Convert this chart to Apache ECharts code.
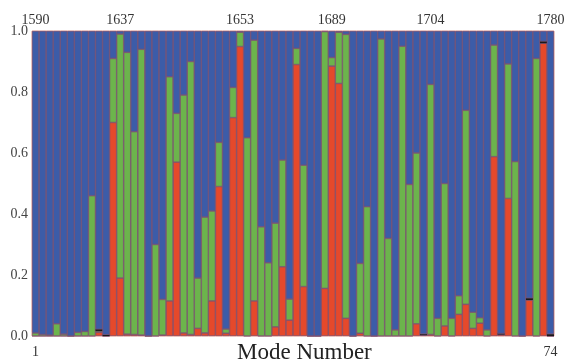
<!DOCTYPE html>
<html><head><meta charset="utf-8">
<script src="https://cdn.jsdelivr.net/npm/echarts@6/dist/echarts.min.js"></script>
<style>html,body{margin:0;padding:0;background:#fff}#c{width:568px;height:364px}</style>
</head><body><div id="c"></div>
<script>
const modes = ['1','2','3','4','5','6','7','8','9','10','11','12','13','14','15','16','17','18','19','20',
'21','22','23','24','25','26','27','28','29','30','31','32','33','34','35','36','37','38','39','40',
'41','42','43','44','45','46','47','48','49','50','51','52','53','54','55','56','57','58','59','60',
'61','62','63','64','65','66','67','68','69','70','71','72','73','74'];

const red = [0,0,0,0,0,0,0,0,0,0.012,
0,0.70,0.19,0.006,0.005,0.003,0,0,0.003,0.115,
0.57,0.01,0.005,0.025,0.01,0.115,0.49,0.009,0.716,0.949,
0,0.115,0,0,0.03,0.227,0.052,0.89,0.162,0,
0,0.156,0.885,0.828,0.058,0,0.009,0,0,0,
0,0,0,0,0.04,0.003,0.005,0,0.033,0,
0.071,0.104,0.025,0.042,0,0.588,0.005,0.451,0,0,
0.118,0,0.96,0];

const green = [0.01,0.005,0.003,0.04,0.006,0,0.012,0.015,0.46,0.004,
0,0.21,0.80,0.924,0.665,0.937,0,0.30,0.117,0.735,
0.16,0.78,0.895,0.165,0.38,0.295,0.145,0.014,0.099,0.047,
0.65,0.855,0.358,0.24,0.34,0.35,0.069,0.053,0.398,0,
0,0.842,0.028,0.168,0.931,0,0.229,0.424,0,0.974,
0.32,0.02,0.95,0.497,0.56,0,0.82,0.058,0.467,0.058,
0.061,0.636,0.053,0.018,0.02,0.366,0,0.441,0.572,0,
0,0.91,0,0];

const dark = [0,0,0,0,0,0,0,0,0,0.006,
0.004,0,0,0,0,0,0,0,0,0,
0,0,0,0,0,0,0,0,0,0,
0,0,0,0,0,0,0,0,0,0,
0,0,0,0,0,0,0,0,0,0,
0,0,0,0,0,0.003,0,0,0,0,
0,0,0,0,0,0,0.003,0,0,0,
0.006,0,0.006,0.006];

// remaining fraction of each mode
const blue = modes.map((_, i) => +(1 - red[i] - green[i] - dark[i]).toFixed(3));

const topModes = ['1','13','30','43','57','74'];
const topLabels = ['1590','1637','1653','1689','1704','1780'];
const xEndLabels = ['1','74'];

const serif = 'Liberation Serif';
const border = {borderColor:'#7b4f6e', borderWidth:0.6};

const chart = echarts.init(document.getElementById('c'), null, {renderer:'canvas'});
chart.setOption({
  animation:false,
  backgroundColor:'#fff',
  grid:{left:32, right:14, top:31, bottom:28, show:true, borderColor:'#f0a595', borderWidth:1, backgroundColor:'#8a6a86'},
  xAxis:[
    {type:'category', data:modes, position:'bottom',
     axisLine:{show:false}, axisTick:{show:false}, splitLine:{show:false},
     axisLabel:{interval:(i, v) => xEndLabels.includes(v), margin:9, fontFamily:serif, fontSize:14, color:'#333'}},
    {type:'category', data:modes, position:'top',
     axisLine:{show:false}, axisTick:{show:false}, splitLine:{show:false},
     axisLabel:{interval:(i, v) => topModes.includes(v), formatter:(v) => topLabels[topModes.indexOf(v)] || '',
       margin:4, fontFamily:serif, fontSize:14, color:'#333'}}
  ],
  yAxis:{type:'value', min:0, max:1, interval:0.2,
    axisLine:{show:false}, axisTick:{show:false}, splitLine:{show:false},
    axisLabel:{formatter:(v) => v.toFixed(1), margin:4, fontFamily:serif, fontSize:14, color:'#444'}},
  series:[
    {name:'red', type:'bar', stack:'s', data:red, barCategoryGap:'0%', itemStyle:Object.assign({color:'#e5492b'}, border)},
    {name:'green', type:'bar', stack:'s', data:green, itemStyle:Object.assign({color:'#6cb44c'}, border)},
    {name:'dark', type:'bar', stack:'s', data:dark, itemStyle:{color:'#1a1a1a'}},
    {name:'blue', type:'bar', stack:'s', data:blue, itemStyle:Object.assign({color:'#3c5ca8'}, border)}
  ],
  graphic:[{type:'text', left:237, top:341, style:{text:'Mode Number', fontFamily:serif, fontSize:23, fill:'#222'}}]
});
</script></body></html>
